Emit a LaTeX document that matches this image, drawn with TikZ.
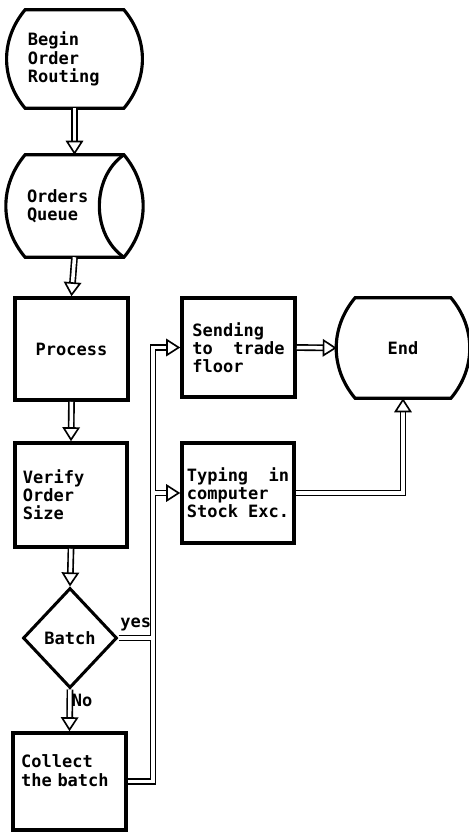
\documentclass[tikz,border=0pt]{standalone}
\usepackage{fontspec}
\usetikzlibrary{arrows.meta,shapes.geometric}
\newfontfamily\dotfont{DejaVu Sans Mono}
\newcommand\flowfont{\dotfont\bfseries\fontsize{14.5pt}{15.5pt}\selectfont}

\begin{document}
\begin{tikzpicture}[
  box/.style={rectangle,draw,line width=3pt,minimum width=3.39cm,minimum height=3cm,font=\flowfont,align=left},
  term/.style={rectangle,inner xsep=0pt,minimum width=4.05cm,minimum height=2.94cm,font=\flowfont,align=left},
  outline/.style={draw,line width=2.7pt},
  dec/.style={diamond,draw,line width=2.6pt,minimum width=2.82cm,minimum height=3cm,inner sep=0pt,font=\flowfont},
  lbl/.style={font=\flowfont,inner sep=1pt},
  pipe/.style={double,line width=1.4pt,double distance=3pt},
  flow/.style={pipe,-{Triangle[open,length=12pt,width=15pt]}}
]
  \useasboundingbox (0,0) rectangle (14.07,-25.02);
  \node[term,text width=2.79cm] (begin) at (2.235,-1.77) {Begin\\Order\\Routing};
  \node[term,text width=2.85cm,minimum height=3.06cm] (queue) at (2.235,-6.18) {Orders\\Queue};
  \node[box,minimum height=3.06cm] (process) at (2.145,-10.47) {Process};
  \node[box,minimum width=3.36cm,minimum height=3.12cm,text width=2.88cm] (verify) at (2.13,-14.85) {Verify\\Order\\Size};
  \node[dec] (batch) at (2.1,-19.14) {Batch};
  \node[box,minimum height=2.91cm,text width=2.9cm,text depth=1.2cm] (collect) at (2.085,-23.445) {Collect\\the batch};
  \node[box,minimum height=2.97cm] (sending) at (7.155,-10.425) {Sending\\to~~trade\\floor};
  \node[box,minimum width=3.36cm] (typing) at (7.14,-14.79) {Typing~~in\\computer\\Stock Exc.};
  \node[term,minimum width=3.96cm,minimum height=3cm,align=center] (end) at (12.09,-10.44) {End};
  \coordinate (trunk) at (4.59,-10);

  \draw[outline] ([xshift=0.55cm]begin.north west) -- ([xshift=-0.55cm]begin.north east)
    to[bend left=40] ([xshift=-0.55cm]begin.south east) -- ([xshift=0.55cm]begin.south west)
    to[bend left=40] ([xshift=0.55cm]begin.north west) -- cycle;
  \draw[outline] ([xshift=0.55cm]queue.north west) -- ([xshift=-0.55cm]queue.north east)
    to[bend left=40] ([xshift=-0.55cm]queue.south east) -- ([xshift=0.55cm]queue.south west)
    to[bend left=40] ([xshift=0.55cm]queue.north west) -- cycle;
  \draw[outline] ([xshift=-0.55cm]queue.north east) to[bend right=55] ([xshift=-0.55cm]queue.south east);
  \draw[outline] ([xshift=0.55cm]end.north west) -- ([xshift=-0.55cm]end.north east)
    to[bend left=40] ([xshift=-0.55cm]end.south east) -- ([xshift=0.55cm]end.south west)
    to[bend left=40] ([xshift=0.55cm]end.north west) -- cycle;

  \draw[flow] (begin.south) -- (queue.north);
  \draw[flow] (queue.south) -- (process.north);
  \draw[flow] (process.south) -- (verify.north);
  \draw[flow] (verify.south) -- (batch.north);
  \draw[flow] (batch.south) -- node[lbl,right,pos=0.25] {No} (collect.north);
  \draw[pipe] (collect.east) -- (collect.east -| trunk) |- ([xshift=-16pt]sending.west)
    (typing.west -| trunk) -- ([xshift=-16pt]typing.west)
    (batch.east) -- node[lbl,above=4pt] {yes} (batch.east -| trunk);
  \draw[flow] ([xshift=-16pt]sending.west) -- (sending.west);
  \draw[flow] ([xshift=-16pt]typing.west) -- (typing.west);
  \draw[flow] (sending.east) -- (end.west);
  \draw[flow] (typing.east) -| (end.south);
\end{tikzpicture}
\end{document}
